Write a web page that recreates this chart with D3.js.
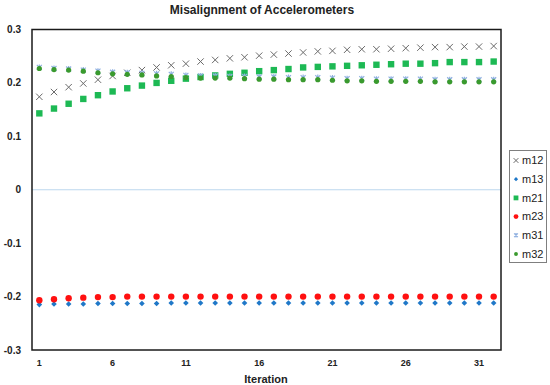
<!DOCTYPE html>
<html><head><meta charset="utf-8">
<script src="https://cdn.jsdelivr.net/npm/d3@7"></script>
<style>body{margin:0;background:#fff;}svg{display:block;font-family:"Liberation Sans",Arial,sans-serif;}</style>
</head><body>
<script>
const iterations = d3.range(1, 33);
const xTickLabels = [1, 6, 11, 16, 21, 26, 31];
const yTickLabels = [0.3, 0.2, 0.1, 0, -0.1, -0.2, -0.3];
const seriesNames = ["m12", "m13", "m21", "m23", "m31", "m32"];
const m12 = [0.174,0.183,0.192,0.199,0.206,0.213,0.219,0.224,0.229,0.233,0.236,0.240,0.243,0.246,0.248,0.251,0.253,0.255,0.257,0.259,0.260,0.262,0.263,0.263,0.264,0.265,0.266,0.267,0.267,0.268,0.268,0.269];
const m13 = [-0.215,-0.214,-0.214,-0.214,-0.213,-0.213,-0.213,-0.213,-0.213,-0.212,-0.212,-0.212,-0.212,-0.212,-0.212,-0.212,-0.212,-0.212,-0.212,-0.212,-0.212,-0.212,-0.212,-0.212,-0.212,-0.212,-0.212,-0.212,-0.212,-0.212,-0.212,-0.212];
const m21 = [0.143,0.152,0.161,0.170,0.177,0.184,0.190,0.195,0.200,0.204,0.208,0.211,0.214,0.217,0.219,0.222,0.224,0.226,0.229,0.230,0.231,0.232,0.233,0.234,0.235,0.236,0.236,0.237,0.239,0.239,0.239,0.240];
const m23 = [-0.207,-0.205,-0.203,-0.202,-0.201,-0.201,-0.200,-0.200,-0.200,-0.200,-0.200,-0.200,-0.200,-0.200,-0.200,-0.200,-0.200,-0.200,-0.200,-0.200,-0.200,-0.200,-0.200,-0.200,-0.200,-0.200,-0.200,-0.200,-0.200,-0.200,-0.200,-0.200];
const m31 = [0.229,0.227,0.226,0.224,0.222,0.220,0.219,0.218,0.217,0.216,0.214,0.213,0.213,0.212,0.212,0.211,0.211,0.210,0.210,0.210,0.209,0.208,0.208,0.207,0.207,0.207,0.207,0.206,0.206,0.206,0.206,0.206];
const m32 = [0.227,0.225,0.224,0.222,0.219,0.217,0.216,0.215,0.213,0.212,0.210,0.209,0.209,0.209,0.208,0.207,0.207,0.206,0.206,0.206,0.205,0.204,0.204,0.203,0.203,0.203,0.203,0.202,0.202,0.202,0.202,0.202];

const W = 550, H = 385;
const plot = {left: 32, right: 501, top: 29.5, bottom: 350};
const svg = d3.select("body").append("svg").attr("width", W).attr("height", H);

const x = d3.scaleBand().domain(iterations).range([plot.left, plot.right]);
const y = d3.scaleLinear().domain([-0.3, 0.3]).range([plot.bottom, plot.top]);
const cx = d => x(d) + x.bandwidth() / 2;

// zero line
svg.append("line").attr("x1", plot.left).attr("x2", plot.right)
  .attr("y1", y(0)).attr("y2", y(0)).attr("stroke", "#bdd7ee").attr("stroke-width", 1);

// y axis labels
svg.append("g").selectAll("text").data(yTickLabels).join("text")
  .attr("x", 21).attr("y", d => y(d)).attr("dy", "0.35em")
  .attr("text-anchor", "end").attr("font-size", 10).attr("font-weight", "bold").attr("fill", "#222")
  .text(d => d === 0 ? "0" : d3.format(".1f")(d).replace("−", "-"));

// x axis labels
svg.append("g").selectAll("text").data(xTickLabels).join("text")
  .attr("x", d => cx(d)).attr("y", 363).attr("dy", "0.35em")
  .attr("text-anchor", "middle").attr("font-size", 9).attr("font-weight", "bold").attr("fill", "#222")
  .text(d => d);

svg.append("text").attr("x", 266).attr("y", 379).attr("dy", "0.35em").attr("text-anchor", "middle")
  .attr("font-size", 11).attr("font-weight", "bold").attr("fill", "#222").text("Iteration");

svg.append("text").attr("x", 262).attr("y", 10).attr("dy", "0.35em").attr("text-anchor", "middle")
  .attr("font-size", 12).attr("font-weight", "bold").attr("fill", "#222").text("Misalignment of Accelerometers");

// marker drawers
const markers = {
  m12: (g, px, py, s=1) => g.append("path").attr("d", `M${px-3.2*s},${py-3.2*s}L${px+3.2*s},${py+3.2*s}M${px-3.2*s},${py+3.2*s}L${px+3.2*s},${py-3.2*s}`)
        .attr("stroke", "#6b6b6b").attr("stroke-width", 1).attr("fill", "none"),
  m13: (g, px, py, s=1) => g.append("path").attr("d", `M${px},${py-2.8*s}L${px+2.8*s},${py}L${px},${py+2.8*s}L${px-2.8*s},${py}Z`)
        .attr("fill", "#1f78c8"),
  m21: (g, px, py, s=1) => g.append("rect").attr("x", px-3.2*s).attr("y", py-3.2*s).attr("width", 6.4*s).attr("height", 6.4*s)
        .attr("fill", "#1db954"),
  m23: (g, px, py, s=1) => g.append("circle").attr("cx", px).attr("cy", py).attr("r", 3.2*s).attr("fill", "#ff1010"),
  m31: (g, px, py, s=1) => g.append("path").attr("d", `M${px-2.5*s},${py-2.5*s}L${px+2.5*s},${py+2.5*s}M${px-2.5*s},${py+2.5*s}L${px+2.5*s},${py-2.5*s}M${px},${py-3*s}L${px},${py+3*s}`)
        .attr("stroke", "#8fb0e0").attr("stroke-width", 1.2).attr("fill", "none"),
  m32: (g, px, py, s=1) => g.append("circle").attr("cx", px).attr("cy", py).attr("r", 2.6*s).attr("fill", "#3a9a2e")
};
const data = {m12, m13, m21, m23, m31, m32};

const gPts = svg.append("g");
seriesNames.forEach(name => {
  data[name].forEach((v, i) => markers[name](gPts, cx(iterations[i]), y(v)));
});

// plot border
svg.append("rect").attr("x", plot.left).attr("y", plot.top)
  .attr("width", plot.right - plot.left).attr("height", plot.bottom - plot.top)
  .attr("fill", "none").attr("stroke", "#1a1a1a").attr("stroke-width", 1.5);

// legend
const lg = svg.append("g");
lg.append("rect").attr("x", 509.5).attr("y", 150.5).attr("width", 37).attr("height", 112)
  .attr("fill", "#fff").attr("stroke", "#7f7f7f").attr("stroke-width", 1);
seriesNames.forEach((name, i) => {
  const ly = 160.5 + i * 18.7;
  markers[name](lg, 516, ly, 0.75);
  lg.append("text").attr("x", 522).attr("y", ly).attr("dy", "0.35em")
    .attr("font-size", 11).attr("fill", "#222").text(name);
});
</script>
</body></html>
